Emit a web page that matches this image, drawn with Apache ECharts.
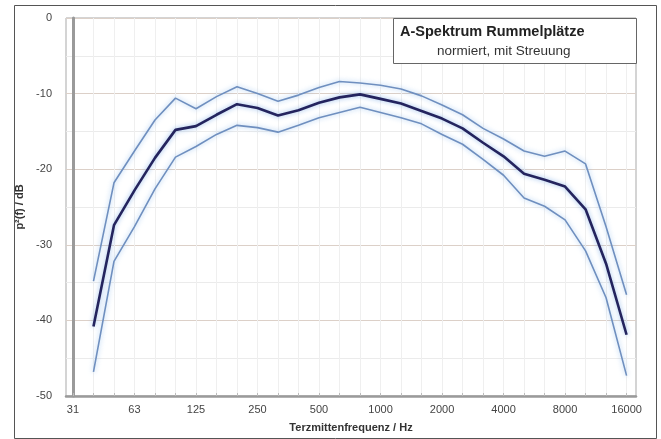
<!DOCTYPE html>
<html>
<head>
<meta charset="utf-8">
<script src="https://cdn.jsdelivr.net/npm/echarts@6/dist/echarts.min.js"></script>
<style>
html,body{margin:0;padding:0;background:#fff;}
#chart{width:661px;height:439px;}
</style>
</head>
<body>
<div id="chart"></div>
<script>
// Third-octave band centre frequencies (band index 0 = 31.5 Hz)
const bands = [31.5,40,50,63,80,100,125,160,200,250,315,400,500,630,800,1000,1250,1600,2000,2500,3150,4000,5000,6300,8000,10000,12500,16000];
const tickLabels = ['31','63','125','250','500','1000','2000','4000','8000','16000'];
const tickBands = [31.5,63,125,250,500,1000,2000,4000,8000,16000];
// measured bands (40 Hz .. 16 kHz)
const freqs = [40,50,63,80,100,125,160,200,250,315,400,500,630,800,1000,1250,1600,2000,2500,3150,4000,5000,6300,8000,10000,12500,16000];
const meanDb  = [-40.8,-27.4,-22.8,-18.5,-14.8,-14.3,-12.8,-11.4,-11.9,-12.9,-12.2,-11.2,-10.5,-10.1,-10.7,-11.3,-12.3,-13.3,-14.6,-16.5,-18.3,-20.6,-21.4,-22.3,-25.3,-32.5,-41.9];
const upperDb = [-34.8,-21.8,-17.6,-13.5,-10.6,-12.0,-10.4,-9.1,-10.0,-11.0,-10.2,-9.2,-8.4,-8.6,-8.9,-9.4,-10.3,-11.5,-12.8,-14.6,-16.0,-17.6,-18.3,-17.6,-19.3,-27.6,-36.6];
const lowerDb = [-46.8,-32.2,-27.6,-22.6,-18.4,-17.0,-15.4,-14.2,-14.5,-15.1,-14.2,-13.2,-12.5,-11.8,-12.5,-13.2,-14.0,-15.4,-16.7,-18.7,-20.8,-23.8,-24.9,-26.7,-30.8,-37.0,-47.3];

const idx = f => bands.indexOf(f);
const pts = arr => freqs.map((f, i) => [idx(f), arr[i]]);
const labelMap = {};
tickBands.forEach((b, i) => { labelMap[idx(b)] = tickLabels[i]; });

const chart = echarts.init(document.getElementById('chart'), null, {renderer: 'canvas'});
const font = 'Liberation Sans, Arial, sans-serif';
const sideStyle = {
  color: '#6f8fbf', width: 1.6,
  shadowColor: 'rgba(130,180,235,0.75)', shadowBlur: 5
};
chart.setOption({
  animation: false,
  backgroundColor: '#ffffff',
  grid: {left: 66, right: 25, top: 18, bottom: 43, show: true, borderColor: '#a9a9a9', borderWidth: 1},
  xAxis: {
    type: 'value',
    min: -0.34, max: 27.46,
    name: 'Terzmittenfrequenz / Hz',
    nameLocation: 'middle', nameGap: 26,
    nameTextStyle: {fontFamily: font, fontSize: 11, fontWeight: 'bold', color: '#333'},
    axisLine: {show: true, onZero: false, lineStyle: {color: '#9a9a9a', width: 2.5}},
    axisTick: {show: true, length: 3, inside: true, lineStyle: {color: '#bbb'}, customValues: bands.map((b, i) => i)},
    axisLabel: {
      customValues: tickBands.map(idx),
      formatter: v => labelMap[Math.round(v)] || '',
      fontFamily: font, fontSize: 11, color: '#444', margin: 8
    },
    splitLine: {show: true, lineStyle: {color: '#efefef', width: 1}}
  },
  yAxis: {
    type: 'value',
    min: -50, max: 0, interval: 10,
    name: 'p²(f) / dB',
    nameLocation: 'middle', nameRotate: 90, nameGap: 36,
    nameTextStyle: {fontFamily: font, fontSize: 11, fontWeight: 'bold', color: '#333'},
    axisLine: {show: true, lineStyle: {color: '#9a9a9a', width: 3}},
    axisTick: {show: false},
    axisLabel: {fontFamily: font, fontSize: 11, color: '#444', margin: 14},
    splitLine: {show: true, lineStyle: {color: '#dcd0c8', width: 1}},
    minorTick: {show: false, splitNumber: 2},
    minorSplitLine: {show: true, lineStyle: {color: '#ebebeb', width: 1}}
  },
  series: [
    {name: 'oben', type: 'line', data: pts(upperDb), symbol: 'none', lineStyle: sideStyle, z: 2},
    {name: 'unten', type: 'line', data: pts(lowerDb), symbol: 'none', lineStyle: sideStyle, z: 2},
    {name: 'Mittel', type: 'line', data: pts(meanDb), symbol: 'none',
     lineStyle: {color: '#24245e', width: 2.6, shadowColor: 'rgba(120,170,230,0.8)', shadowBlur: 5}, z: 3}
  ],
  graphic: [
    {type: 'rect', left: 12, top: 3, shape: {width: 642, height: 433}, style: {fill: 'none', stroke: '#555', lineWidth: 1}, silent: true, z: -1},
    {type: 'rect', left: 393, top: 18, shape: {width: 243, height: 45}, style: {fill: '#fff', stroke: '#666', lineWidth: 1}, z: 10},
    {type: 'text', left: 400, top: 24, style: {text: 'A-Spektrum Rummelplätze', font: 'bold 14.5px ' + font, fill: '#222'}, z: 11},
    {type: 'text', left: 437, top: 44, style: {text: 'normiert, mit Streuung', font: '13.5px ' + font, fill: '#333'}, z: 11}
  ]
});
</script>
</body>
</html>
